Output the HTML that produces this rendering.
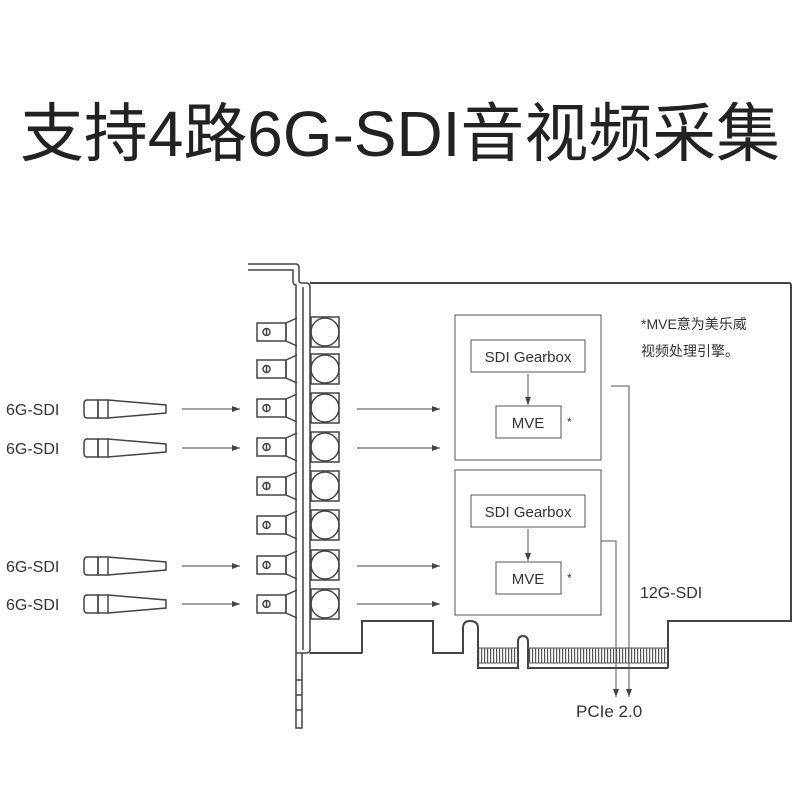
<!DOCTYPE html>
<html><head><meta charset="utf-8"><style>
html,body{margin:0;padding:0;background:#fff;}
svg{display:block;}
text{font-family:"Liberation Sans","Noto Sans CJK SC",sans-serif;fill:#333;}
</style></head><body>
<svg width="800" height="800" viewBox="0 0 800 800" xmlns="http://www.w3.org/2000/svg">
<defs>
<marker id="ah" markerWidth="8" markerHeight="6" refX="8" refY="3" orient="auto" markerUnits="userSpaceOnUse">
<path d="M0,0 L8,3 L0,6 Z" fill="#444"/></marker>
<pattern id="tp" x="478" y="0" width="3" height="10" patternUnits="userSpaceOnUse">
<rect x="0" y="0" width="1.2" height="10" fill="#555"/></pattern>
<g id="bnc" fill="none" stroke="#444" stroke-width="1.5">
<rect x="257" y="-9" width="29" height="18" fill="#fff"/>
<rect x="263" y="-3.5" width="7" height="7" rx="3.5"/>
<line x1="266.5" y1="-3" x2="266.5" y2="3"/>
<path d="M286,-9 L297,-14 M286,9 L297,14 M286,-9 L286,9"/>
<rect x="311" y="-15" width="28" height="30"/>
<circle cx="325" cy="0" r="14"/>
</g>
<g id="cable" fill="none" stroke="#444" stroke-width="1.5">
<path d="M87,-9 L98,-9 L98,9 L87,9 Q84,9 84,5 L84,-5 Q84,-9 87,-9 Z"/>
<rect x="98" y="-9" width="10" height="18"/>
<path d="M108,-9 L166,-4 L166,4 L108,9"/>
<line x1="182" y1="0" x2="240" y2="0" stroke-width="1" marker-end="url(#ah)"/>
<line x1="357" y1="0" x2="440" y2="0" stroke-width="1" marker-end="url(#ah)"/>
</g>
</defs>

<text x="20" y="156" font-size="64" textLength="760" lengthAdjust="spacingAndGlyphs" style="fill:#222">支持4路6G-SDI音视频采集</text>

<!-- teeth -->
<rect x="479" y="648" width="39" height="15" fill="url(#tp)"/>
<rect x="529" y="648" width="139" height="15" fill="url(#tp)"/>
<!-- board outline -->
<path d="M310,283 L789,283 Q791,283 791,286 L791,621 L668,621 L668,668 M362,653 L310,653 M362,653 L362,621 L433,621 L433,653 L463,653 L463,628 Q463,621 470,621 Q478,621 478,628 L478,668 L518,668 L518,642 Q518,636 523,636 Q528,636 528,642 L528,668 L668,668" fill="none" stroke="#444" stroke-width="2"/>
<g stroke="#555" stroke-width="1">
<line x1="478" y1="648" x2="518" y2="648"/><line x1="528" y1="648" x2="668" y2="648"/>
<line x1="478" y1="663" x2="518" y2="663"/><line x1="528" y1="663" x2="668" y2="663"/>
</g>
<!-- bracket -->
<g fill="none" stroke="#444" stroke-width="1.5">
<path d="M248,264 L296,264 Q299,264 299,268 L299,281 Q299,283 302,283 L306,283 Q310,283 310,287 L310,650 Q310,653 306,653 L296,653"/>
<path d="M248,270 L293,270 L293,281 Q293,285 296,285 L296,728 L302,728 L302,653"/>
<line x1="303" y1="287" x2="303" y2="650"/>
<line x1="296" y1="680" x2="302" y2="680"/><line x1="296" y1="695" x2="302" y2="695"/><line x1="296" y1="710" x2="302" y2="710"/>
</g>
<use href="#bnc" y="332"/><use href="#bnc" y="369"/><use href="#bnc" y="408"/><use href="#bnc" y="447"/>
<use href="#bnc" y="486"/><use href="#bnc" y="525"/><use href="#bnc" y="565"/><use href="#bnc" y="604"/>
<use href="#cable" y="409"/><use href="#cable" y="448"/><use href="#cable" y="566"/><use href="#cable" y="604"/>
<g font-size="16"><text x="6" y="415">6G-SDI</text><text x="6" y="454">6G-SDI</text><text x="6" y="572">6G-SDI</text><text x="6" y="610">6G-SDI</text></g>

<!-- processing boxes -->
<g fill="none" stroke="#555" stroke-width="1">
<rect x="455" y="315" width="146" height="145"/>
<rect x="471" y="340" width="114" height="32"/>
<rect x="496" y="406" width="65" height="32"/>
<line x1="528" y1="374" x2="528" y2="405" marker-end="url(#ah)"/>
<rect x="455" y="470" width="146" height="145"/>
<rect x="471" y="495" width="114" height="32"/>
<rect x="496" y="562" width="65" height="32"/>
<line x1="528" y1="529" x2="528" y2="561" marker-end="url(#ah)"/>
<path d="M611,386 L629,386 L629,697" marker-end="url(#ah)"/>
<path d="M601,541 L616,541 L616,697" marker-end="url(#ah)"/>
</g>
<g font-size="15">
<text x="528" y="362" text-anchor="middle">SDI Gearbox</text>
<text x="528" y="428" text-anchor="middle">MVE</text>
<text x="528" y="517" text-anchor="middle">SDI Gearbox</text>
<text x="528" y="584" text-anchor="middle">MVE</text>
<text x="567" y="426" font-size="12">*</text>
<text x="567" y="582" font-size="12">*</text>
<text x="641" y="329" font-size="14">*MVE意为美乐威</text>
<text x="641" y="356" font-size="14">视频处理引擎。</text>
<text x="640" y="598" font-size="16">12G-SDI</text>
<text x="576" y="717" font-size="17">PCIe 2.0</text>
</g>
</svg>
</body></html>
